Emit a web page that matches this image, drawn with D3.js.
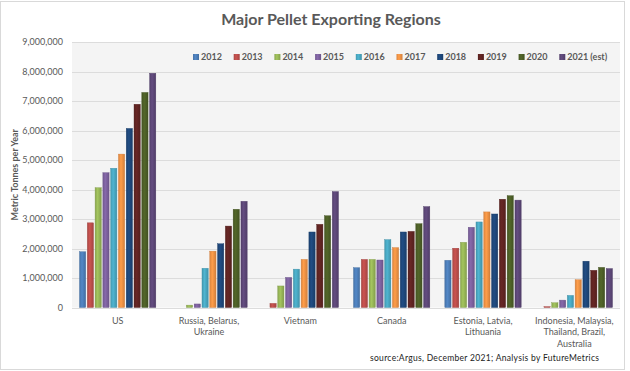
<!DOCTYPE html>
<html lang="en">
<head>
  <meta charset="UTF-8">
  <title>Major Pellet Exporting Regions</title>
  <script src="https://d3js.org/d3.v7.min.js"></script>
  <style>
    body { margin: 0; background: #fff; }
    text { font-family: Lato, "Open Sans", sans-serif; fill: #595959; }
  </style>
</head>
<body>
  <div id="chart"></div>
  <script>
    const width = 630;
    const height = 371;

    // data
    const regions = [
      ["US"],
      ["Russia, Belarus,", "Ukraine"],
      ["Vietnam"],
      ["Canada"],
      ["Estonia, Latvia,", "Lithuania"],
      ["Indonesia, Malaysia,", "Thailand, Brazil,", "Australia"]
    ];
    const years = ["2012", "2013", "2014", "2015", "2016", "2017", "2018", "2019", "2020", "2021 (est)"];
    const colors = ["#4F81BD", "#C0504D", "#9BBB59", "#8064A2", "#4BACC6", "#F79646", "#1F497D", "#632523", "#4F6228", "#5F497A"];

    const us        = [1890000, 2870000, 4060000, 4570000, 4720000, 5200000, 6070000, 6890000, 7290000, 7940000];
    const russia    = [0, 0, 80000, 120000, 1330000, 1910000, 2160000, 2760000, 3330000, 3600000];
    const vietnam   = [0, 140000, 730000, 1020000, 1300000, 1630000, 2560000, 2820000, 3110000, 3930000];
    const canada    = [1350000, 1630000, 1630000, 1610000, 2300000, 2030000, 2560000, 2580000, 2840000, 3420000];
    const baltics   = [1600000, 2010000, 2210000, 2720000, 2900000, 3240000, 3170000, 3670000, 3790000, 3640000];
    const indonesia = [0, 30000, 160000, 250000, 410000, 940000, 1570000, 1260000, 1360000, 1320000];
    const values = [us, russia, vietnam, canada, baltics, indonesia];

    const yTicks = [0, 1000000, 2000000, 3000000, 4000000, 5000000, 6000000, 7000000, 8000000, 9000000];

    const margin = { top: 42, right: 10, bottom: 63.5, left: 72 };
    const plotW = width - margin.left - margin.right;
    const plotH = height - margin.top - margin.bottom;

    const svg = d3.select("#chart").append("svg")
      .attr("width", width).attr("height", height);

    // outer frame
    svg.append("rect")
      .attr("x", 0.5).attr("y", 1.5)
      .attr("width", width - 6).attr("height", height - 3)
      .attr("fill", "#fff").attr("stroke", "#d9d9d9");

    // gradients for the bevelled bars
    const defs = svg.append("defs");
    colors.forEach((c, i) => {
      const g = defs.append("linearGradient").attr("id", "g" + i)
        .attr("x1", "0").attr("x2", "1").attr("y1", "0").attr("y2", "0");
      g.append("stop").attr("offset", "0%").attr("stop-color", d3.color(c).darker(0.35));
      g.append("stop").attr("offset", "40%").attr("stop-color", d3.color(c).brighter(0.15));
      g.append("stop").attr("offset", "100%").attr("stop-color", d3.color(c).darker(0.45));
    });

    const x0 = d3.scaleBand().domain(d3.range(regions.length))
      .range([0, plotW]).paddingInner(0.13).paddingOuter(0.065);
    const x1 = d3.scaleBand().domain(d3.range(years.length))
      .range([0, x0.bandwidth()]).padding(0.2);
    const y = d3.scaleLinear().domain([0, 9000000]).range([plotH, 0]);

    const g = svg.append("g").attr("transform", `translate(${margin.left},${margin.top})`);

    g.append("rect").attr("width", plotW).attr("height", plotH).attr("fill", "#f4f4f4");

    // gridlines
    g.selectAll(".grid").data(yTicks).join("line")
      .attr("x1", 0).attr("x2", plotW)
      .attr("y1", d => Math.round(y(d)) + 0.5).attr("y2", d => Math.round(y(d)) + 0.5)
      .attr("stroke", "#dcdcdc");

    // y axis labels
    g.selectAll(".ylab").data(yTicks).join("text")
      .attr("x", -9).attr("y", d => y(d)).attr("dy", "0.35em")
      .attr("text-anchor", "end").attr("font-size", 9)
      .text(d => d3.format(",")(d));

    svg.append("text")
      .attr("transform", `translate(18,${margin.top + plotH / 2}) rotate(-90)`)
      .attr("text-anchor", "middle").attr("font-size", 9).attr("font-weight", "bold")
      .text("Metric Tonnes per Year");

    // bars
    const groups = g.selectAll(".grp").data(values).join("g")
      .attr("transform", (d, i) => `translate(${x0(i)},0)`);
    groups.selectAll("rect").data(d => d).join("rect")
      .attr("x", (d, j) => x1(j))
      .attr("width", x1.bandwidth())
      .attr("y", d => y(d))
      .attr("height", d => plotH - y(d))
      .attr("fill", (d, j) => `url(#g${j})`)
      .attr("stroke", (d, j) => d === 0 ? "none" : d3.color(colors[j]).darker(0.5))
      .attr("stroke-width", 0.4);

    // category labels
    const labs = g.selectAll(".cat").data(regions).join("text")
      .attr("x", (d, i) => x0(i) + x0.bandwidth() / 2)
      .attr("y", plotH + 16)
      .attr("text-anchor", "middle").attr("font-size", 9);
    labs.selectAll("tspan").data(d => d).join("tspan")
      .attr("x", function () { return d3.select(this.parentNode).attr("x"); })
      .attr("dy", (d, k) => k === 0 ? 0 : 11.8)
      .text(d => d);

    // legend
    const legend = svg.append("g").attr("transform", "translate(193,57)");
    const li = legend.selectAll("g").data(years).join("g")
      .attr("transform", (d, i) => `translate(${i * 40.7},0)`);
    li.append("rect").attr("x", 0).attr("y", -3).attr("width", 6).attr("height", 6)
      .attr("fill", (d, i) => `url(#g${i})`);
    li.append("text").attr("x", 8).attr("dy", "0.35em")
      .attr("font-size", 9).attr("font-weight", "bold").text(d => d);

    // title
    svg.append("text")
      .attr("x", 331).attr("y", 25)
      .attr("text-anchor", "middle").attr("font-size", 16).attr("font-weight", "bold")
      .text("Major Pellet Exporting Regions");

    // source note
    svg.append("text")
      .attr("x", 370).attr("y", 361)
      .attr("font-size", 8.5)
      .attr("textLength", 229).attr("lengthAdjust", "spacing")
      .attr("font-family", "'DejaVu Sans Condensed', 'Liberation Sans Narrow', sans-serif")
      .style("fill", "#222")
      .text("source:Argus, December 2021; Analysis by FutureMetrics");
  </script>
</body>
</html>
